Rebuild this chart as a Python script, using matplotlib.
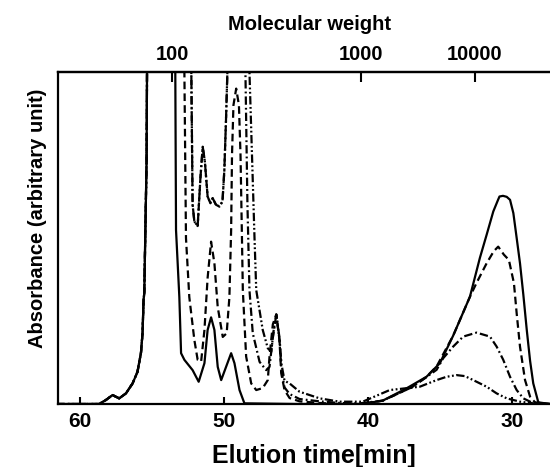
import numpy as np
import matplotlib
matplotlib.use("Agg")
import matplotlib.pyplot as plt

plt.rcParams['lines.scale_dashes'] = False
FONT = ['Liberation Sans', 'DejaVu Sans']

# shared left flank of the big low-MW peak (min, arbitrary units)
left_t = [61.6, 58.65, 58.18, 57.72, 57.26, 56.79, 56.33, 55.99, 55.75, 55.64,
          55.57, 55.52, 55.36, 55.33]
left_a = [0, 0, 0.012, 0.027, 0.017, 0.032, 0.062, 0.097, 0.154, 0.214,
          0.313, 0.334, 0.735, 1.0]

# solid curve
solid_t = left_t + [55.1, 54.6, 54.0, 53.6, 53.37, 53.32, 53.09, 52.97, 52.74,
                    52.17, 51.75, 51.35, 51.13, 50.89, 50.66, 50.43, 50.19,
                    49.85, 49.50, 49.27, 48.92, 48.58, 45.0, 40.5, 39.0, 37.35,
                    35.96, 35.03, 34.11, 32.95, 32.26, 31.79, 31.33, 31.0, 30.9,
                    30.66, 30.4, 30.17, 29.94, 29.71, 29.48, 29.25, 29.01,
                    28.78, 28.56, 28.21, 27.4]
solid_a = left_a + [1.4, 1.8, 1.8, 1.4, 1.0, 0.524, 0.322, 0.153, 0.133,
                    0.102, 0.067, 0.123, 0.223, 0.261, 0.223, 0.112, 0.072,
                    0.112, 0.153, 0.123, 0.042, 0.002, 0.0, 0.0, 0.01, 0.047,
                    0.082, 0.123, 0.206, 0.323, 0.44, 0.51, 0.58, 0.615, 0.625,
                    0.627, 0.624, 0.615, 0.575, 0.50, 0.424, 0.33, 0.223,
                    0.13, 0.062, 0.005, 0.0]

# dashed curve
dash_t = left_t + [55.0, 54.2, 53.3, 52.8, 52.74, 52.63, 52.40, 52.05, 51.82,
                   51.58, 51.35, 51.13, 50.89, 50.66, 50.43, 50.08, 49.81,
                   49.62, 49.50, 49.44, 49.34, 49.15, 48.96, 48.85, 48.75,
                   48.69, 48.46, 48.11, 47.76, 47.31, 46.96, 46.84, 46.61,
                   46.37, 46.15, 46.03, 45.80, 45.45, 44.76, 43.37, 41.98,
                   40.59, 39.0, 38.0, 37.0, 36.0, 35.26, 34.11, 32.95, 32.5,
                   31.79, 31.3, 30.99, 30.6, 30.25, 29.9, 29.71, 29.48, 29.13,
                   28.78, 28.44, 27.4]
dash_a = left_a + [1.4, 1.8, 1.6, 1.1, 1.0, 0.5, 0.322, 0.193, 0.133,
                   0.128, 0.223, 0.38, 0.489, 0.424, 0.292, 0.202, 0.213,
                   0.322, 0.524, 0.75, 0.9, 0.95, 0.9, 0.75, 0.5,
                   0.343, 0.143, 0.062, 0.042, 0.048, 0.072, 0.143, 0.24,
                   0.27, 0.193, 0.093, 0.042, 0.018, 0.008, 0.003, 0.0,
                   0.0, 0.01, 0.03, 0.05, 0.08, 0.113, 0.206, 0.323, 0.364,
                   0.424, 0.46, 0.474, 0.45, 0.434, 0.364, 0.273, 0.173, 0.072,
                   0.022, 0.005, 0.0]

# dash-dot and dash-dot-dot share the 52-50 min region
mid_t = [55.0, 54.2, 53.3, 52.6, 52.26, 52.17, 52.05, 51.82, 51.63, 51.47,
         51.32, 51.13, 50.94, 50.78, 50.55, 50.31, 50.10, 49.97, 49.86, 49.76]
mid_a = [1.4, 1.8, 1.6, 1.2, 1.0, 0.6, 0.55, 0.536, 0.68, 0.775,
         0.73, 0.625, 0.605, 0.62, 0.6, 0.595, 0.61, 0.705, 0.85, 1.0]

dashdot_t = left_t + mid_t + [49.4, 49.0, 48.7, 48.51, 48.37, 48.23, 48.0,
                              47.53, 47.07, 46.84, 46.61, 46.37, 46.15, 46.01,
                              45.80, 45.45, 44.76, 43.37, 41.98, 40.59, 39.0,
                              38.0, 37.0, 36.0, 35.26, 34.8, 34.11, 33.42,
                              32.49, 31.56, 31.1, 30.64, 30.17, 29.71, 29.25,
                              28.78, 28.0, 27.4]
dashdot_a = left_a + mid_a + [1.3, 1.4, 1.2, 1.0, 0.6, 0.343, 0.213,
                              0.127, 0.102, 0.112, 0.2, 0.27, 0.193, 0.1,
                              0.05, 0.03, 0.015, 0.008, 0.003, 0.002, 0.01,
                              0.03, 0.05, 0.08, 0.103, 0.138, 0.173, 0.203,
                              0.215, 0.203, 0.173, 0.133, 0.082, 0.042, 0.017,
                              0.007, 0.0, 0.0]

dashdot2_t = left_t + mid_t + [49.4, 48.9, 48.5, 48.23, 48.02, 47.88, 47.76,
                               47.31, 46.96, 46.72, 46.56, 46.37, 46.15, 46.01,
                               45.8, 45.45, 44.76, 43.37, 41.98, 40.38, 38.51,
                               36.43, 35.26, 34.57, 33.87, 33.3, 32.72, 31.79,
                               31.1, 30.4, 29.48, 28.56, 27.4]
dashdot2_a = left_a + mid_a + [1.3, 1.5, 1.3, 1.0, 0.7, 0.5, 0.343,
                               0.223, 0.168, 0.157, 0.22, 0.27, 0.2, 0.12,
                               0.07, 0.062, 0.037, 0.017, 0.007, 0.007, 0.042,
                               0.052, 0.072, 0.082, 0.087, 0.084, 0.072, 0.052,
                               0.032, 0.017, 0.007, 0.002, 0.0]

# molecular weight calibration marks on the top axis
mw_labels = ['100', '1000', '10000']
mw_times = [53.6, 40.5, 32.6]

fig = plt.figure(figsize=(5.5, 4.67), dpi=100)
ax = fig.add_axes([58 / 550, 63 / 467, 492 / 550, 332 / 467])

lw = 1.6
ax.plot(solid_t, solid_a, color='black', lw=lw, linestyle='-')
ax.plot(dash_t, dash_a, color='black', lw=lw, linestyle=(0, (5.5, 3)))
ax.plot(dashdot_t, dashdot_a, color='black', lw=lw,
        linestyle=(0, (6, 2.2, 1.3, 2.2)))
ax.plot(dashdot2_t, dashdot2_a, color='black', lw=lw,
        linestyle=(0, (6, 1.8, 1.3, 1.8, 1.3, 1.8)))

ax.set_xlim(61.5, 27.4)
ax.set_ylim(0, 1.0)
ax.set_yticks([])
ax.set_xticks([60, 50, 40, 30])
ax.tick_params(axis='x', direction='in', length=5, width=1.5, pad=6)
for lab in ax.get_xticklabels():
    lab.set_family(FONT)
    lab.set_fontweight('bold')
    lab.set_fontsize(15)
for side in ['left', 'top', 'bottom']:
    ax.spines[side].set_linewidth(1.6)
ax.spines['right'].set_visible(False)

ax.set_xlabel('Elution time[min]', family=FONT, fontweight='bold',
              fontsize=18)
ax.xaxis.set_label_coords(0.52, -0.12)
ax.set_ylabel('Absorbance (arbitrary unit)', family=FONT, fontweight='bold',
              fontsize=14.5)
ax.yaxis.set_label_coords(-0.022, 0.56)

top = ax.secondary_xaxis('top')
top.set_xticks(mw_times, labels=mw_labels)
top.tick_params(direction='in', length=7, width=1.5, pad=6)
for lab in top.get_xticklabels():
    lab.set_family(FONT)
    lab.set_fontweight('bold')
    lab.set_fontsize(14.5)
top.spines['top'].set_linewidth(1.6)
top.set_xlabel('Molecular weight', family=FONT, fontweight='bold',
               fontsize=14.5)
top.xaxis.set_label_coords(0.512, 1.125, transform=ax.transAxes)

fig.savefig('out.png', dpi=100)
